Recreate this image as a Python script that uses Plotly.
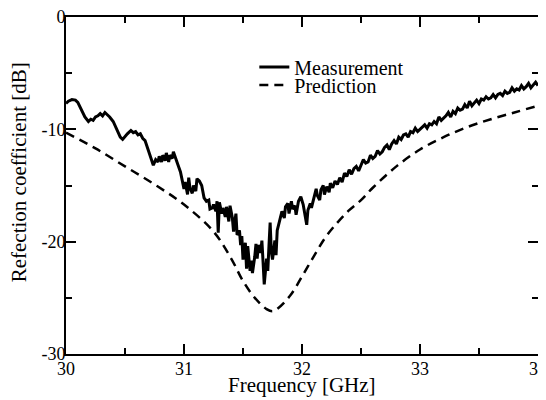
import plotly.graph_objects as go

meas_freq = [30.00, 30.02, 30.05, 30.08, 30.10, 30.13, 30.16, 30.19, 30.21, 30.23, 30.25, 30.27, 30.29, 30.31, 30.33, 30.35, 30.37, 30.40, 30.42, 30.44,
             30.46, 30.48, 30.50, 30.52, 30.55, 30.57, 30.59, 30.61, 30.63, 30.65, 30.67, 30.69, 30.71, 30.73, 30.74, 30.76, 30.78, 30.79, 30.81, 30.82,
             30.84, 30.85, 30.87, 30.88, 30.90, 30.91, 30.93, 30.95, 30.97, 30.99, 31.00, 31.01, 31.03, 31.04, 31.05, 31.07, 31.08, 31.10, 31.11, 31.13,
             31.15, 31.17, 31.19, 31.21, 31.22, 31.24, 31.25, 31.27, 31.28, 31.29, 31.30, 31.32, 31.33, 31.35, 31.36, 31.38, 31.39, 31.41, 31.42, 31.44,
             31.45, 31.47, 31.48, 31.49, 31.50, 31.52, 31.53, 31.54, 31.56, 31.57, 31.58, 31.60, 31.61, 31.62, 31.63, 31.65, 31.66, 31.67, 31.68, 31.70,
             31.71, 31.72, 31.73, 31.74, 31.75, 31.77, 31.78, 31.79, 31.81, 31.83, 31.85, 31.86, 31.88, 31.89, 31.91, 31.92, 31.94, 31.95, 31.97, 31.99,
             32.01, 32.02, 32.04, 32.05, 32.07, 32.08, 32.10, 32.12, 32.13, 32.15, 32.16, 32.18, 32.19, 32.21, 32.23, 32.24, 32.26, 32.28, 32.30, 32.32,
             32.34, 32.36, 32.38, 32.40, 32.42, 32.44, 32.46, 32.48, 32.50, 32.52, 32.54, 32.56, 32.58, 32.60, 32.62, 32.64, 32.66, 32.68, 32.70, 32.72,
             32.74, 32.76, 32.78, 32.80, 32.82, 32.84, 32.86, 32.88, 32.90, 32.92, 32.94, 32.96, 32.98, 33.00, 33.02, 33.04, 33.06, 33.08, 33.10, 33.12,
             33.14, 33.16, 33.18, 33.20, 33.22, 33.24, 33.26, 33.28, 33.30, 33.32, 33.34, 33.36, 33.38, 33.40, 33.42, 33.44, 33.46, 33.48, 33.50, 33.52,
             33.54, 33.56, 33.58, 33.60, 33.62, 33.64, 33.66, 33.68, 33.70, 33.72, 33.74, 33.76, 33.78, 33.80, 33.82, 33.84, 33.86, 33.88, 33.90, 33.92,
             33.94, 33.96, 33.98, 34.00]
meas_db = [-7.7, -7.5, -7.35, -7.4, -7.6, -8.3, -8.9, -9.3, -9.1, -9.2, -8.9, -8.8, -8.6, -8.8, -8.5, -8.7, -8.9, -9.3, -9.8, -10.3,
           -10.7, -10.9, -10.6, -10.4, -10.1, -10.3, -10.2, -10.5, -10.4, -10.8, -11.0, -11.6, -12.3, -12.9, -13.2, -12.7, -12.9, -12.4, -12.9, -12.3,
           -12.8, -12.1, -12.9, -12.3, -12.6, -12.0, -12.7, -13.2, -13.8, -14.9, -15.3, -14.7, -15.8, -14.3, -15.2, -15.7, -15.0, -15.5, -14.4, -14.6,
           -15.0, -16.1, -16.4, -16.3, -17.1, -17.0, -16.7, -17.3, -16.4, -19.2, -16.5, -17.5, -17.0, -17.8, -16.9, -18.2, -16.8, -17.9, -19.1, -17.5,
           -19.4, -19.0, -20.3, -19.5, -21.6, -20.1, -22.4, -20.4, -22.6, -21.7, -22.8, -21.3, -20.2, -21.5, -20.3, -21.0, -19.9, -21.8, -23.8, -21.5,
           -22.6, -20.4, -18.3, -20.9, -21.6, -19.9, -21.2, -19.0, -18.1, -17.3, -17.9, -16.9, -16.6, -17.5, -16.4, -17.1, -16.8, -17.6, -16.4, -16.0,
           -16.7, -17.4, -18.5, -17.2, -16.6, -17.0, -16.2, -15.3, -15.9, -16.3, -15.4, -15.0, -15.8, -15.1, -15.6, -14.8, -15.2, -14.6, -14.9, -14.3,
           -14.7, -13.9, -14.2, -13.6, -14.0, -13.5, -13.3, -13.7, -13.2, -12.7, -13.0, -12.9, -12.3, -12.6, -12.4, -11.9, -12.2, -12.0, -11.6, -11.4,
           -11.8, -11.3, -11.0, -11.3, -10.7, -10.9, -10.5, -10.4, -10.7, -10.2, -10.3, -9.9, -10.2, -10.0, -9.8, -9.6, -9.9, -9.5, -9.6, -9.3,
           -9.5, -8.9, -9.2, -9.0, -8.8, -8.5, -8.9, -8.4, -8.6, -8.1, -8.3, -8.2, -7.8, -8.1, -7.5, -7.9, -7.6, -7.4, -7.7, -7.3,
           -7.4, -7.1, -7.3, -7.2, -6.9, -7.2, -6.9, -6.8, -7.0, -6.6, -6.8, -6.7, -6.3, -6.6, -6.4, -6.5, -6.1, -6.4, -6.2, -5.9,
           -6.3, -6.0, -5.8, -6.1]
assert len(meas_freq) == len(meas_db)

pred_freq = [30.0, 30.25, 30.5, 30.75, 31.0, 31.25, 31.4, 31.5, 31.6, 31.7, 31.75, 31.8, 31.9, 32.0, 32.1, 32.2, 32.3, 32.4, 32.5, 32.6,
             32.8, 33.0, 33.2, 33.4, 33.6, 33.8, 34.0]
pred_db = [-10.3, -11.7, -13.3, -14.9, -16.7, -19.1, -21.5, -23.5, -25.0, -26.0, -26.2, -25.9, -24.8, -23.1, -21.3, -19.6, -18.3, -17.2, -16.3, -15.2,
           -13.3, -11.8, -10.7, -9.8, -9.1, -8.5, -7.9]

x_ticks = [30, 31, 32, 33, 34]
y_ticks = [0, -10, -20, -30]

FONT = "Liberation Serif, Times New Roman, serif"

fig = go.Figure()
fig.add_trace(go.Scatter(x=meas_freq, y=meas_db, mode="lines", name="Measurement",
                         line=dict(color="black", width=3), legend="legend", showlegend=True))
fig.add_trace(go.Scatter(x=pred_freq, y=pred_db, mode="lines", name="Prediction",
                         line=dict(color="black", width=2.5, dash="9px,6px", shape="spline"),
                         legend="legend2", showlegend=True))

axis_common = dict(showline=True, linecolor="black", linewidth=2, mirror="ticks",
                   ticks="inside", ticklen=10, tickwidth=1.5, tickcolor="black",
                   showgrid=False, zeroline=False, automargin=False, ticklabeloverflow="allow",
                   tickfont=dict(family=FONT, size=18, color="black"))

fig.update_xaxes(range=[30, 34], tickvals=x_ticks, ticktext=[str(v) for v in x_ticks],
                 minor=dict(ticks="inside", dtick=0.5, ticklen=6, tickwidth=1.5, tickcolor="black"),
                 ticklabelstandoff=-3, **axis_common)
fig.update_yaxes(range=[-30, 0], tickvals=y_ticks, ticktext=[str(v) for v in y_ticks],
                 minor=dict(ticks="inside", dtick=5, ticklen=6, tickwidth=1.5, tickcolor="black"),
                 ticklabelstandoff=-5, **axis_common)

leg_common = dict(xanchor="left", yanchor="middle", bgcolor="rgba(0,0,0,0)",
                  font=dict(family=FONT, size=20, color="black"), itemwidth=30)

# page body adds an 8px offset, so the figure is laid out 8px up/left of the target
fig.update_layout(width=546, height=392, margin=dict(l=58, r=16, t=9, b=46),
                  paper_bgcolor="white", plot_bgcolor="white",
                  font=dict(family=FONT, color="black"), showlegend=True,
                  legend=dict(x=0.399, y=0.852, **leg_common),
                  legend2=dict(x=0.399, y=0.798, **leg_common))

fig.add_annotation(text="Frequency [GHz]", xref="paper", yref="paper", x=0.5, y=-0.092,
                   xanchor="center", yanchor="middle", showarrow=False,
                   font=dict(family=FONT, size=21, color="black"))
fig.add_annotation(text="Refection coefficient [dB]", xref="paper", yref="paper", x=-0.099, y=0.54,
                   xanchor="center", yanchor="middle", textangle=-90, showarrow=False,
                   font=dict(family=FONT, size=21, color="black"))

fig.write_html("out.html")
